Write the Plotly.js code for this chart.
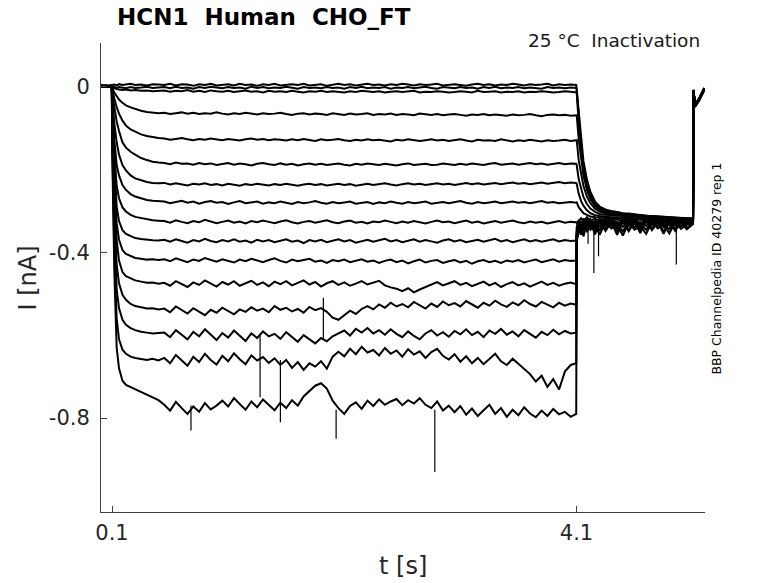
<!DOCTYPE html>
<html>
<head>
<meta charset="utf-8">
<script src="https://cdn.plot.ly/plotly-3.0.1.min.js"></script>
<style>html,body{margin:0;padding:0;background:#fff;}#chart{width:778px;height:583px;}</style>
</head>
<body>
<div id="chart"></div>
<script>
// ---- time base (s) ----
const tPre = [0.005, 0.05, 0.098];
const tOn = [0.102, 0.12, 0.14, 0.16, 0.19, 0.22, 0.26, 0.30, 0.35, 0.40, 0.45, 0.50];
const tPlat = [
0.55,0.60,0.65,0.70,0.75,0.80,0.85,0.90,0.95,1.00,
1.05,1.10,1.15,1.20,1.25,1.30,1.35,1.40,1.45,1.50,
1.55,1.60,1.65,1.70,1.75,1.80,1.85,1.90,1.95,2.00,
2.05,2.10,2.15,2.20,2.25,2.30,2.35,2.40,2.45,2.50,
2.55,2.60,2.65,2.70,2.75,2.80,2.85,2.90,2.95,3.00,
3.05,3.10,3.15,3.20,3.25,3.30,3.35,3.40,3.45,3.50,
3.55,3.60,3.65,3.70,3.75,3.80,3.85,3.90,3.95,4.00,
4.05,4.098];
const tPost = [4.102,4.12,4.14,4.16,4.19,4.22,4.26,4.30,4.35,
4.40,4.45,4.50,4.55,4.60,4.65,4.70,4.75,4.80,4.85,4.90,4.95,5.00,5.05,
5.104,5.109,5.12,5.16,5.20];

// ---- current traces (nA) ----
const i01 = [.004,.001,.003,
.003,.004,.002,.005,.003,.004,.006,.003,.004,.002,.005,.004,
.003,.006,.002,.005,.004,.001,.005,.003,.006,.002,
.004,.005,.002,.006,.003,.004,.001,.005,.003,.006,
.002,.004,.005,.003,.006,.002,.004,.005,.001,.004,
.006,.003,.005,.002,.004,.006,.003,.004,.002,.005,
.003,.006,.004,.002,.005,.003,.004,.006,.002,.004,
.005,.003,.001,.004,.006,.003,.005,.002,.004,.003,
.006,.004,.002,.005,.003,.004,.006,.002,.005,.003,
.004,.003,
-.01,-.07,-.13,-.18,-.225,-.255,-.278,-.29,-.297,
-.301,-.303,-.306,-.307,-.309,-.31,-.312,-.313,-.314,-.314,-.315,-.316,-.317,-.318,
-.318,-.008,-.048,-.03,-.008];
const i02 = [.001,-.002,.002,
-.001,-.002,-.004,-.002,-.003,-.005,-.002,-.004,-.003,-.001,-.004,-.003,
-.002,-.005,-.001,-.004,-.003,-.006,-.002,-.004,-.001,-.003,
-.005,-.002,-.004,-.003,-.006,-.001,-.004,-.002,-.005,-.003,
-.004,-.001,-.003,-.006,-.002,-.004,-.003,-.005,-.002,-.004,
-.003,-.006,-.002,-.004,-.001,-.005,-.003,-.004,-.002,-.006,
-.003,-.004,-.002,-.005,-.003,-.001,-.004,-.006,-.002,-.003,
-.005,-.002,-.004,-.003,-.006,-.002,-.004,-.001,-.005,-.003,
-.004,-.002,-.005,-.003,-.004,-.006,-.002,-.004,-.003,-.005,
-.003,-.004,
-.008,-.08,-.145,-.19,-.235,-.262,-.283,-.293,-.299,
-.302,-.305,-.307,-.309,-.31,-.312,-.313,-.314,-.315,-.316,-.316,-.317,-.318,-.319,
-.319,-.01,-.047,-.03,-.006];
const i03 = [-.001,.002,-.002,
-.003,-.005,-.007,-.008,-.009,-.008,-.010,-.009,-.011,-.010,-.012,-.011,
-.010,-.013,-.011,-.012,-.009,-.013,-.011,-.014,-.010,-.012,
-.013,-.011,-.014,-.012,-.010,-.013,-.012,-.015,-.011,-.013,
-.012,-.014,-.011,-.013,-.015,-.012,-.013,-.011,-.014,-.012,
-.013,-.015,-.012,-.014,-.011,-.013,-.014,-.012,-.015,-.013,
-.012,-.014,-.013,-.011,-.015,-.013,-.014,-.012,-.013,-.015,
-.014,-.012,-.013,-.015,-.011,-.014,-.013,-.012,-.015,-.013,
-.014,-.012,-.015,-.013,-.014,-.012,-.013,-.015,-.014,-.012,
-.013,-.014,
-.015,-.09,-.155,-.2,-.243,-.268,-.287,-.296,-.301,
-.304,-.306,-.308,-.31,-.311,-.313,-.314,-.315,-.316,-.317,-.317,-.318,-.319,-.32,
-.32,-.012,-.05,-.033,-.01];
const i04 = [.002,-.001,.001,
-.005,-.015,-.024,-.032,-.040,-.046,-.051,-.055,-.059,-.062,-.064,-.065,
-.064,-.067,-.065,-.063,-.066,-.064,-.067,-.065,-.066,-.063,
-.066,-.068,-.065,-.067,-.064,-.066,-.068,-.065,-.067,-.066,
-.064,-.067,-.069,-.066,-.065,-.068,-.066,-.067,-.069,-.065,
-.067,-.069,-.066,-.068,-.067,-.065,-.069,-.067,-.068,-.066,
-.069,-.067,-.068,-.070,-.066,-.068,-.069,-.067,-.070,-.068,
-.067,-.069,-.071,-.068,-.069,-.067,-.070,-.068,-.069,-.071,
-.068,-.070,-.069,-.067,-.070,-.072,-.069,-.068,-.070,-.069,
-.071,-.07,
-.07,-.13,-.18,-.215,-.25,-.272,-.289,-.298,-.303,
-.306,-.307,-.309,-.311,-.312,-.313,-.314,-.315,-.316,-.317,-.318,-.318,-.319,-.32,
-.32,-.015,-.046,-.028,-.004];
const i05 = [-.002,.001,-.001,
-.008,-.030,-.050,-.066,-.083,-.095,-.104,-.110,-.116,-.120,-.123,-.125,
-.126,-.129,-.127,-.125,-.128,-.130,-.127,-.129,-.126,-.128,
-.130,-.127,-.129,-.131,-.128,-.126,-.129,-.127,-.130,-.128,
-.129,-.131,-.128,-.130,-.127,-.129,-.132,-.128,-.130,-.129,
-.127,-.130,-.132,-.129,-.131,-.128,-.130,-.129,-.131,-.133,
-.129,-.131,-.128,-.130,-.132,-.130,-.128,-.131,-.129,-.132,
-.130,-.128,-.131,-.133,-.129,-.131,-.130,-.132,-.128,-.131,
-.133,-.130,-.132,-.129,-.131,-.133,-.130,-.132,-.131,-.129,
-.132,-.131,
-.13,-.18,-.215,-.24,-.266,-.282,-.295,-.302,-.306,
-.308,-.309,-.311,-.312,-.313,-.314,-.315,-.316,-.317,-.317,-.318,-.319,-.319,-.32,
-.32,-.01,-.049,-.031,-.007];
const i06 = [.001,-.002,.002,
-.015,-.05,-.085,-.108,-.135,-.148,-.158,-.165,-.173,-.178,-.182,-.184,
-.185,-.188,-.184,-.187,-.186,-.189,-.185,-.188,-.186,-.190,
-.187,-.185,-.189,-.186,-.188,-.191,-.187,-.185,-.188,-.190,
-.186,-.189,-.187,-.191,-.188,-.186,-.189,-.187,-.190,-.188,
-.186,-.189,-.191,-.187,-.189,-.186,-.188,-.190,-.187,-.189,
-.191,-.188,-.186,-.190,-.188,-.187,-.190,-.189,-.186,-.188,
-.190,-.187,-.189,-.186,-.188,-.190,-.187,-.185,-.189,-.187,
-.186,-.189,-.187,-.185,-.188,-.186,-.189,-.187,-.185,-.188,
-.186,-.187,
-.19,-.225,-.25,-.267,-.284,-.295,-.303,-.308,-.31,
-.311,-.312,-.313,-.314,-.315,-.316,-.316,-.317,-.318,-.318,-.319,-.319,-.32,-.32,
-.321,-.014,-.045,-.027,-.005];
const i07 = [-.001,.002,-.002,
-.03,-.09,-.135,-.165,-.19,-.203,-.215,-.222,-.227,-.231,-.233,-.234,
-.233,-.237,-.234,-.236,-.239,-.235,-.237,-.234,-.238,-.236,
-.239,-.235,-.237,-.240,-.236,-.238,-.235,-.237,-.239,-.236,
-.238,-.235,-.237,-.240,-.237,-.235,-.238,-.236,-.239,-.237,
-.235,-.238,-.236,-.240,-.237,-.235,-.238,-.236,-.234,-.237,
-.239,-.236,-.234,-.237,-.235,-.238,-.236,-.234,-.237,-.235,
-.238,-.236,-.233,-.236,-.234,-.237,-.235,-.233,-.236,-.234,
-.232,-.235,-.233,-.236,-.234,-.232,-.235,-.233,-.231,-.234,
-.232,-.233,
-.235,-.26,-.277,-.288,-.299,-.306,-.311,-.313,-.315,
-.316,-.316,-.317,-.318,-.318,-.319,-.319,-.32,-.32,-.321,-.321,-.321,-.322,-.322,
-.322,-.011,-.048,-.03,-.008];
const i08 = [.002,-.001,.001,
-.04,-.13,-.19,-.215,-.238,-.25,-.26,-.266,-.27,-.274,-.276,-.277,
-.278,-.282,-.279,-.276,-.281,-.278,-.283,-.279,-.277,-.281,
-.279,-.284,-.280,-.277,-.282,-.280,-.278,-.283,-.280,-.282,
-.278,-.281,-.284,-.279,-.282,-.280,-.277,-.281,-.283,-.279,
-.282,-.280,-.278,-.283,-.281,-.279,-.284,-.280,-.282,-.278,
-.281,-.283,-.279,-.282,-.280,-.278,-.283,-.281,-.279,-.282,
-.280,-.277,-.281,-.283,-.279,-.282,-.280,-.278,-.282,-.280,
-.278,-.281,-.279,-.282,-.280,-.277,-.281,-.279,-.282,-.280,
-.279,-.281,
-.28,-.292,-.3,-.306,-.31,-.314,-.316,-.317,-.318,
-.318,-.319,-.32,-.32,-.321,-.32,-.321,-.322,-.321,-.322,-.322,-.323,-.322,-.323,
-.323,-.013,-.046,-.029,-.006];
const i09 = [-.002,.001,-.001,
-.05,-.16,-.24,-.27,-.292,-.302,-.31,-.315,-.318,-.321,-.323,-.324,
-.325,-.329,-.323,-.327,-.330,-.325,-.328,-.322,-.326,-.330,
-.327,-.324,-.329,-.326,-.331,-.325,-.328,-.324,-.327,-.330,
-.326,-.323,-.328,-.331,-.327,-.325,-.329,-.326,-.323,-.328,
-.330,-.326,-.324,-.329,-.327,-.331,-.326,-.328,-.324,-.327,
-.330,-.326,-.329,-.325,-.328,-.331,-.327,-.324,-.328,-.326,
-.330,-.327,-.324,-.329,-.326,-.331,-.328,-.325,-.329,-.327,
-.324,-.328,-.330,-.326,-.329,-.327,-.331,-.328,-.325,-.329,
-.327,-.328,
-.33,-.325,-.318,-.326,-.316,-.324,-.319,-.327,-.317,
-.325,-.32,-.328,-.318,-.324,-.321,-.327,-.318,-.325,-.32,-.327,-.319,-.324,-.321,
-.322,-.01,-.047,-.031,-.007];
const i10 = [.001,-.002,.002,
-.06,-.19,-.29,-.325,-.347,-.356,-.362,-.366,-.368,-.370,-.371,-.372,
-.370,-.375,-.369,-.373,-.377,-.371,-.374,-.368,-.373,-.376,
-.371,-.374,-.369,-.375,-.372,-.377,-.370,-.374,-.371,-.376,
-.373,-.369,-.375,-.372,-.378,-.371,-.374,-.370,-.376,-.373,
-.369,-.374,-.371,-.377,-.373,-.370,-.375,-.372,-.368,-.374,
-.371,-.376,-.372,-.369,-.375,-.371,-.374,-.377,-.372,-.369,
-.374,-.371,-.376,-.373,-.370,-.375,-.372,-.368,-.374,-.371,
-.376,-.372,-.369,-.374,-.371,-.375,-.372,-.369,-.374,-.371,
-.373,-.372,
-.34,-.322,-.334,-.319,-.331,-.32,-.333,-.319,-.329,
-.32,-.335,-.321,-.329,-.319,-.334,-.32,-.327,-.319,-.331,-.32,-.329,-.321,-.33,
-.324,-.012,-.049,-.03,-.005];
const i11 = [-.001,.002,-.002,
-.07,-.22,-.33,-.37,-.395,-.404,-.41,-.414,-.416,-.418,-.417,-.419,
-.417,-.422,-.415,-.420,-.424,-.418,-.421,-.414,-.419,-.423,
-.417,-.421,-.425,-.418,-.422,-.416,-.420,-.424,-.419,-.415,
-.421,-.425,-.418,-.422,-.419,-.416,-.423,-.420,-.426,-.419,
-.422,-.418,-.424,-.421,-.417,-.423,-.420,-.426,-.421,-.418,
-.424,-.420,-.427,-.422,-.418,-.425,-.421,-.419,-.426,-.422,
-.419,-.425,-.421,-.428,-.422,-.419,-.424,-.421,-.426,-.420,
-.423,-.419,-.425,-.421,-.418,-.424,-.420,-.417,-.423,-.419,
-.421,-.42,
-.35,-.336,-.325,-.34,-.322,-.334,-.324,-.338,-.321,
-.331,-.326,-.339,-.322,-.333,-.327,-.337,-.321,-.33,-.325,-.336,-.322,-.331,-.326,
-.326,-.009,-.05,-.032,-.009];
const i12 = [.002,-.001,.001,
-.08,-.26,-.37,-.42,-.448,-.458,-.464,-.468,-.471,-.474,-.473,-.476,
-.474,-.481,-.470,-.477,-.484,-.473,-.479,-.468,-.476,-.483,
-.472,-.478,-.470,-.481,-.475,-.469,-.479,-.473,-.482,-.471,
-.477,-.470,-.480,-.474,-.468,-.478,-.472,-.483,-.475,-.470,
-.479,-.473,-.481,-.476,-.470,-.478,-.474,-.469,-.480,-.485,
-.488,-.494,-.487,-.497,-.490,-.484,-.478,-.472,-.480,-.475,
-.470,-.479,-.474,-.482,-.476,-.471,-.480,-.474,-.484,-.477,
-.472,-.480,-.475,-.483,-.477,-.471,-.479,-.474,-.481,-.476,
-.473,-.477,
-.355,-.324,-.343,-.321,-.338,-.322,-.342,-.323,-.336,
-.321,-.344,-.324,-.337,-.322,-.341,-.323,-.335,-.321,-.34,-.324,-.336,-.322,-.334,
-.327,-.011,-.047,-.03,-.006];
const i13 = [-.002,.001,-.002,
-.1,-.3,-.43,-.475,-.503,-.515,-.525,-.53,-.533,-.536,-.535,-.538,
-.536,-.545,-.531,-.540,-.548,-.535,-.543,-.552,-.539,-.546,
-.534,-.542,-.550,-.538,-.544,-.533,-.541,-.536,-.545,-.530,
-.539,-.534,-.543,-.537,-.546,-.532,-.540,-.535,-.544,-.558,
-.563,-.552,-.541,-.549,-.537,-.530,-.538,-.526,-.534,-.522,
-.531,-.525,-.533,-.520,-.529,-.536,-.524,-.532,-.519,-.528,
-.523,-.531,-.518,-.527,-.534,-.522,-.529,-.517,-.526,-.532,
-.521,-.528,-.516,-.525,-.531,-.520,-.527,-.533,-.522,-.529,
-.524,-.527,
-.36,-.345,-.33,-.35,-.325,-.339,-.33,-.347,-.323,
-.337,-.33,-.35,-.325,-.34,-.332,-.346,-.324,-.337,-.33,-.345,-.324,-.338,-.329,
-.328,-.013,-.045,-.028,-.004];
const i14 = [.001,-.002,.002,
-.12,-.35,-.49,-.535,-.563,-.575,-.583,-.588,-.592,-.594,-.596,-.595,
-.594,-.605,-.588,-.599,-.610,-.592,-.603,-.586,-.598,-.612,
-.595,-.606,-.589,-.601,-.614,-.596,-.607,-.591,-.603,-.597,
-.609,-.593,-.604,-.616,-.600,-.611,-.620,-.607,-.615,-.603,
-.596,-.589,-.601,-.585,-.594,-.583,-.596,-.588,-.599,-.586,
-.597,-.605,-.591,-.602,-.610,-.596,-.588,-.601,-.593,-.604,
-.590,-.598,-.586,-.600,-.592,-.605,-.589,-.597,-.585,-.599,
-.591,-.603,-.588,-.596,-.606,-.592,-.600,-.587,-.598,-.590,
-.596,-.594,
-.365,-.328,-.352,-.324,-.347,-.326,-.35,-.323,-.344,
-.325,-.353,-.324,-.346,-.326,-.349,-.323,-.343,-.325,-.351,-.324,-.345,-.326,-.342,
-.33,-.01,-.048,-.031,-.007];
const i15 = [-.002,.002,-.001,
-.14,-.4,-.56,-.61,-.635,-.645,-.652,-.655,-.658,-.66,-.657,-.661,
-.655,-.668,-.648,-.662,-.674,-.652,-.665,-.645,-.660,-.671,
-.650,-.663,-.644,-.658,-.670,-.649,-.661,-.653,-.667,-.656,
-.672,-.660,-.679,-.665,-.684,-.668,-.676,-.663,-.681,-.652,
-.640,-.651,-.633,-.646,-.628,-.642,-.636,-.649,-.631,-.645,
-.637,-.652,-.634,-.647,-.639,-.655,-.641,-.633,-.650,-.659,
-.646,-.664,-.651,-.668,-.655,-.670,-.658,-.645,-.663,-.672,
-.657,-.669,-.682,-.694,-.712,-.698,-.725,-.706,-.731,-.688,
-.672,-.668,
-.37,-.355,-.336,-.362,-.328,-.346,-.335,-.358,-.326,
-.343,-.336,-.36,-.328,-.346,-.337,-.356,-.327,-.343,-.334,-.355,-.327,-.344,-.333,
-.331,-.012,-.046,-.029,-.005];
const i16 = [.001,-.001,.002,
-.16,-.45,-.63,-.68,-.71,-.72,-.725,-.73,-.738,-.744,-.75,-.757,
-.768,-.782,-.761,-.776,-.790,-.772,-.785,-.764,-.779,-.770,
-.758,-.772,-.752,-.766,-.780,-.760,-.774,-.755,-.769,-.781,
-.763,-.776,-.757,-.770,-.748,-.735,-.722,-.716,-.729,-.758,
-.776,-.790,-.771,-.762,-.778,-.758,-.771,-.755,-.768,-.760,
-.754,-.769,-.757,-.765,-.752,-.768,-.776,-.760,-.782,-.770,
-.786,-.771,-.792,-.777,-.795,-.781,-.768,-.790,-.776,-.797,
-.780,-.793,-.774,-.789,-.798,-.782,-.795,-.778,-.791,-.785,
-.797,-.79,
-.38,-.33,-.358,-.326,-.352,-.328,-.357,-.325,-.349,
-.327,-.358,-.326,-.35,-.328,-.354,-.325,-.347,-.327,-.356,-.326,-.349,-.328,-.345,
-.332,-.011,-.048,-.03,-.006];

// ---- brief noise spikes: time, upper and lower current ----
const spikeT   = [0.78, 1.375, 1.55, 1.92, 2.03, 2.88, 4.20, 4.25, 4.29, 4.96];
const spikeTop = [-0.77, -0.60, -0.66, -0.51, -0.78, -0.78, -0.33, -0.33, -0.33, -0.33];
const spikeBot = [-0.83, -0.75, -0.81, -0.61, -0.85, -0.93, -0.38, -0.45, -0.41, -0.43];

// ---- tick labels ----
const xTickVals = [0.1, 4.1];
const xTickText = ['0.1', '4.1'];
const yTickVals = [-0.8, -0.4, 0];
const yTickText = ['-0.8', '-0.4', '0'];

const tAll = tPre.concat(tOn, tPlat, tPost);
const series = [i01,i02,i03,i04,i05,i06,i07,i08,i09,i10,i11,i12,i13,i14,i15,i16];

const data = series.map(function (v) {
  if (v.length !== tAll.length) console.error('length mismatch', v.length, tAll.length);
  return {
    type: 'scatter', mode: 'lines', x: tAll, y: v,
    line: {color: '#000000', width: 2}, hoverinfo: 'skip', showlegend: false
  };
});
const sx = [], sy = [];
spikeT.forEach(function (t, k) { sx.push(t, t, null); sy.push(spikeTop[k], spikeBot[k], null); });
data.push({type: 'scatter', mode: 'lines', x: sx, y: sy, line: {color: '#000000', width: 1.2},
  hoverinfo: 'skip', showlegend: false, connectgaps: false});

const FONT = 'DejaVu Sans, Verdana, sans-serif';
const layout = {
  width: 778, height: 583,
  margin: {l: 101, r: 73, t: 43, b: 71, pad: 0},
  paper_bgcolor: '#ffffff', plot_bgcolor: '#ffffff',
  font: {family: FONT, color: '#262626'},
  showlegend: false,
  xaxis: {
    range: [0.005, 5.207], showgrid: false, zeroline: false,
    showline: true, linecolor: '#404040', linewidth: 1,
    ticks: 'inside', ticklen: 6, tickwidth: 1, tickcolor: '#404040',
    tickvals: xTickVals, ticktext: xTickText,
    tickfont: {family: FONT, size: 21, color: '#262626'},
    ticklabelstandoff: 2, fixedrange: true
  },
  yaxis: {
    range: [-1.0265, 0.1043], showgrid: false, zeroline: false,
    showline: true, linecolor: '#404040', linewidth: 1,
    ticks: 'inside', ticklen: 6, tickwidth: 1, tickcolor: '#404040',
    tickvals: yTickVals, ticktext: yTickText,
    tickfont: {family: FONT, size: 21, color: '#262626'},
    ticklabelstandoff: 6, fixedrange: true
  },
  annotations: [
    {text: '<b>HCN1\u00a0 Human\u00a0 CHO_FT</b>', xref: 'paper', yref: 'paper',
     x: 0.0232, y: 1.055, xanchor: 'left', yanchor: 'middle', showarrow: false,
     font: {family: FONT, size: 23, color: '#000000'}},
    {text: '25 \u00b0C\u00a0 Inactivation', xref: 'paper', yref: 'paper',
     x: 0.995, y: 1.006, xanchor: 'right', yanchor: 'middle', showarrow: false,
     font: {family: FONT, size: 18.5, color: '#1a1a1a'}},
    {text: 'BBP Channelpedia ID 40279 rep 1', xref: 'paper', yref: 'paper',
     x: 1.0199, y: 0.519, xanchor: 'center', yanchor: 'middle', textangle: -90, showarrow: false,
     font: {family: FONT, size: 12.5, color: '#000000'}},
    {text: 't [s]', xref: 'paper', yref: 'paper',
     x: 0.5, y: -0.1156, xanchor: 'center', yanchor: 'middle', showarrow: false,
     font: {family: FONT, size: 24, color: '#262626'}},
    {text: 'I [nA]', xref: 'paper', yref: 'paper',
     x: -0.1209, y: 0.5, xanchor: 'center', yanchor: 'middle', textangle: -90, showarrow: false,
     font: {family: FONT, size: 24, color: '#262626'}}
  ]
};

Plotly.newPlot('chart', data, layout, {staticPlot: true, displayModeBar: false});
</script>
</body>
</html>
